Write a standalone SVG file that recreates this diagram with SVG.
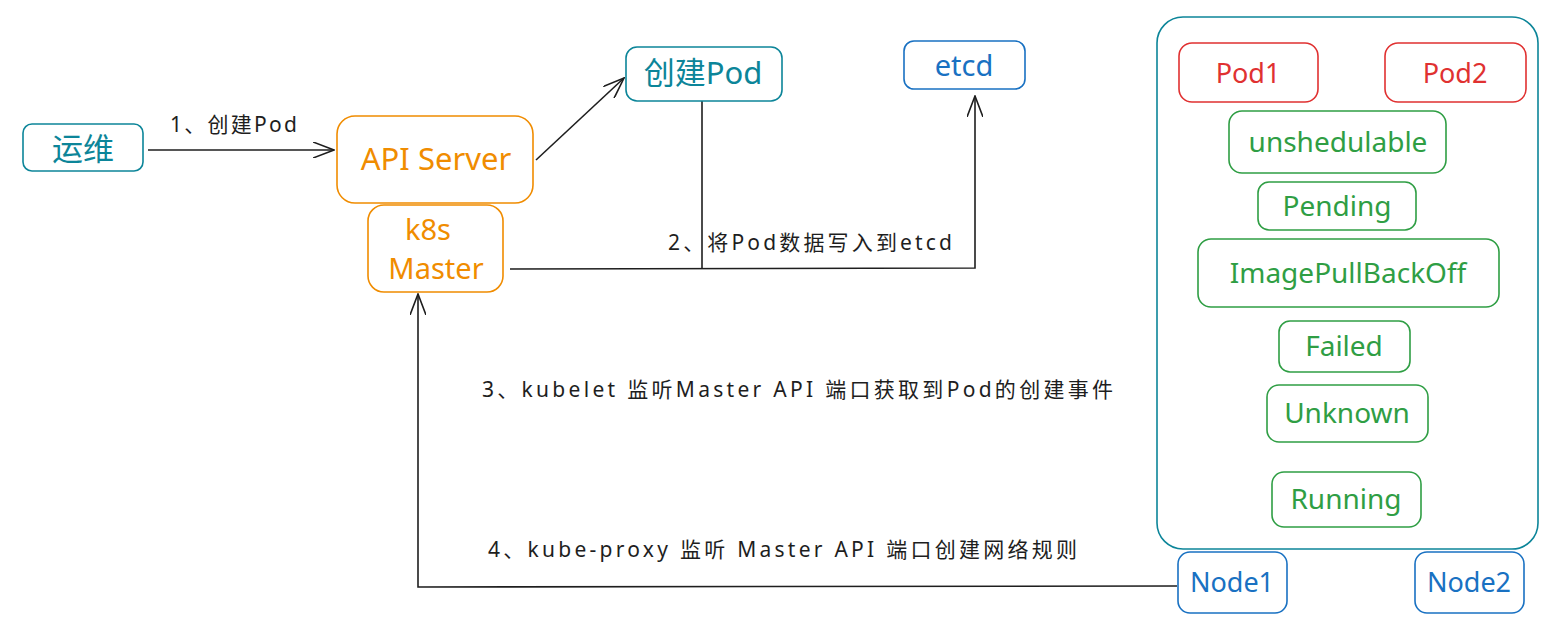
<svg xmlns="http://www.w3.org/2000/svg" width="1548" height="620" viewBox="0 0 1548 620">
<style>
text{font-family:"Noto Sans","Noto Sans CJK SC",sans-serif;}
.box{fill:none;stroke-width:1.6;}
.teal{stroke:#0c8599;}
.orange{stroke:#f08c00;}
.blue{stroke:#1971c2;}
.red{stroke:#e03131;}
.green{stroke:#2f9e44;}
.lbl{text-anchor:middle;dominant-baseline:central;}
.tteal{fill:#0c8599;}
.torange{fill:#f08c00;}
.tblue{fill:#1971c2;}
.tred{fill:#e03131;}
.tgreen{fill:#2f9e44;}
.note{fill:#1e1e1e;font-size:21px;}
.conn{fill:none;stroke:#1e1e1e;stroke-width:1.6;}
</style>
<defs>
<marker id="arr" markerUnits="userSpaceOnUse" viewBox="0 0 22 16" refX="21" refY="8" markerWidth="22" markerHeight="16" orient="auto">
<path d="M0,0 L21,8 L0,16" fill="none" stroke="#1e1e1e" stroke-width="1.6"/>
</marker>
</defs>
<rect width="1548" height="620" fill="#ffffff"/>

<g id="connectors">
<line class="conn" x1="148" y1="150" x2="334" y2="150" marker-end="url(#arr)"/>
<line class="conn" x1="536" y1="160" x2="624" y2="78" marker-end="url(#arr)"/>
<line class="conn" x1="702" y1="101" x2="702" y2="268"/>
<polyline class="conn" points="510,269 975,268 975,96" marker-end="url(#arr)"/>
<polyline class="conn" points="1177,586 418,587 418,294" marker-end="url(#arr)"/>
<text class="note" x="170" y="132" textLength="127" lengthAdjust="spacing">1、创建Pod</text>
<text class="note" x="668" y="250" textLength="284" lengthAdjust="spacing">2、将Pod数据写入到etcd</text>
<text class="note" x="482" y="397" textLength="631" lengthAdjust="spacing">3、kubelet 监听Master API 端口获取到Pod的创建事件</text>
<text class="note" x="488" y="557" textLength="589" lengthAdjust="spacing">4、kube-proxy 监听 Master API 端口创建网络规则</text>
</g>

<g id="ops">
<rect class="box teal" x="23" y="124" width="120" height="47" rx="9"/>
<text class="lbl tteal" x="83" y="148" font-size="31">运维</text>
</g>

<g id="api-server">
<rect class="box orange" x="337" y="116" width="196" height="87" rx="18"/>
<text class="lbl torange" x="436" y="158" font-size="31">API Server</text>
</g>

<g id="k8s-master">
<rect class="box orange" x="368" y="205" width="135" height="87" rx="16"/>
<text class="lbl torange" x="428" y="228" font-size="29">k8s</text>
<text class="lbl torange" x="436" y="267" font-size="29">Master</text>
</g>

<g id="create-pod">
<rect class="box teal" x="626" y="47" width="156" height="54" rx="11"/>
<text class="lbl tteal" x="703" y="72" font-size="31">创建Pod</text>
</g>

<g id="etcd">
<rect class="box blue" x="904" y="41" width="121" height="48" rx="10"/>
<text class="lbl tblue" x="964" y="64" font-size="29">etcd</text>
</g>

<g id="node-container">
<rect class="box teal" x="1157" y="17" width="381" height="532" rx="26"/>
</g>

<g id="pod1">
<rect class="box red" x="1179" y="43" width="139" height="59" rx="13"/>
<text class="lbl tred" x="1248" y="72" font-size="27">Pod1</text>
</g>
<g id="pod2">
<rect class="box red" x="1385" y="43" width="141" height="59" rx="13"/>
<text class="lbl tred" x="1455" y="72" font-size="27">Pod2</text>
</g>

<g id="unshedulable">
<rect class="box green" x="1229" y="111" width="217" height="62" rx="13"/>
<text class="lbl tgreen" x="1338" y="141" font-size="28">unshedulable</text>
</g>
<g id="pending">
<rect class="box green" x="1258" y="182" width="158" height="48" rx="11"/>
<text class="lbl tgreen" x="1337" y="205" font-size="28">Pending</text>
</g>
<g id="imagepullbackoff">
<rect class="box green" x="1198" y="239" width="301" height="68" rx="13"/>
<text class="lbl tgreen" x="1348" y="272" font-size="28">ImagePullBackOff</text>
</g>
<g id="failed">
<rect class="box green" x="1279" y="321" width="131" height="51" rx="11"/>
<text class="lbl tgreen" x="1344" y="345" font-size="28">Failed</text>
</g>
<g id="unknown">
<rect class="box green" x="1267" y="385" width="161" height="57" rx="12"/>
<text class="lbl tgreen" x="1347" y="412" font-size="28">Unknown</text>
</g>
<g id="running">
<rect class="box green" x="1272" y="472" width="149" height="55" rx="12"/>
<text class="lbl tgreen" x="1346" y="498" font-size="28">Running</text>
</g>

<g id="node1">
<rect class="box blue" x="1178" y="552" width="109" height="61" rx="12"/>
<text class="lbl tblue" x="1232" y="581" font-size="27">Node1</text>
</g>
<g id="node2">
<rect class="box blue" x="1415" y="552" width="109" height="61" rx="12"/>
<text class="lbl tblue" x="1469" y="581" font-size="27">Node2</text>
</g>
</svg>
